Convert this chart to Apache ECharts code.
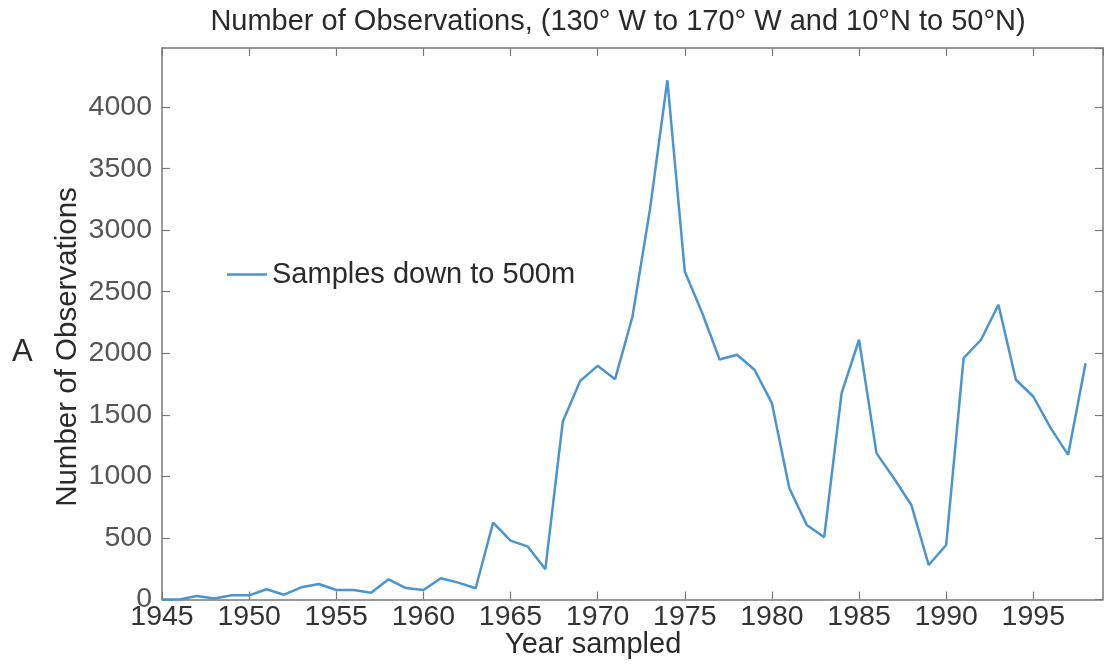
<!DOCTYPE html>
<html>
<head>
<meta charset="utf-8">
<script src="https://cdn.jsdelivr.net/npm/echarts@6/dist/echarts.min.js"></script>
<style>
html,body{margin:0;padding:0;background:#fff;}
#chart{width:1104px;height:664px;}
</style>
</head>
<body>
<div id="chart"></div>
<script>
const years = [1945,1946,1947,1948,1949,1950,1951,1952,1953,1954,1955,1956,1957,1958,1959,1960,1961,1962,1963,1964,1965,1966,1967,1968,1969,1970,1971,1972,1973,1974,1975,1976,1977,1978,1979,1980,1981,1982,1983,1984,1985,1986,1987,1988,1989,1990,1991,1992,1993,1994,1995,1996,1997,1998];
const samples = [0,0,28,8,34,34,83,39,99,126,77,77,55,164,93,77,172,137,91,624,478,429,246,1446,1776,1898,1790,2299,3167,4218,2665,2327,1950,1988,1866,1595,904,606,506,1676,2110,1189,985,768,280,443,1961,2110,2394,1785,1649,1392,1175,1920];
const seriesName = 'Samples down to 500m';
const titleText = 'Number of Observations, (130\u00b0 W to 170\u00b0 W and 10\u00b0N to 50\u00b0N)';
const xName = 'Year sampled';
const yName = 'Number of Observations';
const panelLabel = 'A';

const font = 'Liberation Sans, Arial, Helvetica, sans-serif';
const axisColor = '#7a7a7a';
const chart = echarts.init(document.getElementById('chart'));
const data = years.map((y, i) => [y, samples[i]]);

const boxAxis = {
  axisLine: {show: true, onZero: false, lineStyle: {color: axisColor, width: 1.5}},
  axisTick: {show: true, inside: true, length: 8, lineStyle: {color: axisColor, width: 1.2}},
  splitLine: {show: false}
};
const plainNum = v => String(v);

chart.setOption({
  backgroundColor: '#fff',
  animation: false,
  title: {
    text: titleText,
    left: 613, top: 2, textAlign: 'center',
    textStyle: {fontFamily: font, fontSize: 29, fontWeight: 'normal', color: '#2a2a2a'}
  },
  legend: {
    left: 222, top: 255,
    icon: 'rect', itemWidth: 40, itemHeight: 2.5, itemGap: 10,
    textStyle: {fontFamily: font, fontSize: 29, color: '#2a2a2a'},
    data: [seriesName]
  },
  grid: {left: 162, right: 1, top: 48, bottom: 64.5, containLabel: false},
  xAxis: [
    Object.assign({}, boxAxis, {
      type: 'value', min: 1945, max: 1999, interval: 5, position: 'bottom',
      axisLabel: {fontFamily: font, fontSize: 28.5, color: '#333', margin: 3, showMaxLabel: false, formatter: plainNum}
    }),
    Object.assign({}, boxAxis, {
      type: 'value', min: 1945, max: 1999, interval: 5, position: 'top',
      axisLabel: {show: false}
    })
  ],
  yAxis: [
    Object.assign({}, boxAxis, {
      type: 'value', min: 0, max: 4480, interval: 500, position: 'left',
      axisLabel: {fontFamily: font, fontSize: 28.5, color: '#555', margin: 10, showMaxLabel: false, formatter: plainNum}
    }),
    Object.assign({}, boxAxis, {
      type: 'value', min: 0, max: 4480, interval: 500, position: 'right',
      axisLabel: {show: false}
    })
  ],
  graphic: [
    {type: 'text', x: 505, y: 645, style: {text: xName, font: '29px ' + font, fill: '#2a2a2a', verticalAlign: 'middle'}},
    {type: 'text', x: 68, y: 347, rotation: Math.PI / 2, style: {text: yName, font: '29.5px ' + font, fill: '#2a2a2a', align: 'center', verticalAlign: 'middle'}},
    {type: 'text', x: 12, y: 352, style: {text: panelLabel, font: '31px ' + font, fill: '#2a2a2a', verticalAlign: 'middle'}}
  ],
  series: [{
    name: seriesName, type: 'line', xAxisIndex: 0, yAxisIndex: 0,
    data: data, showSymbol: false, symbol: 'none',
    lineStyle: {color: '#4a94cf', width: 2.5},
    itemStyle: {color: '#4a94cf'}
  }]
});
</script>
</body>
</html>
